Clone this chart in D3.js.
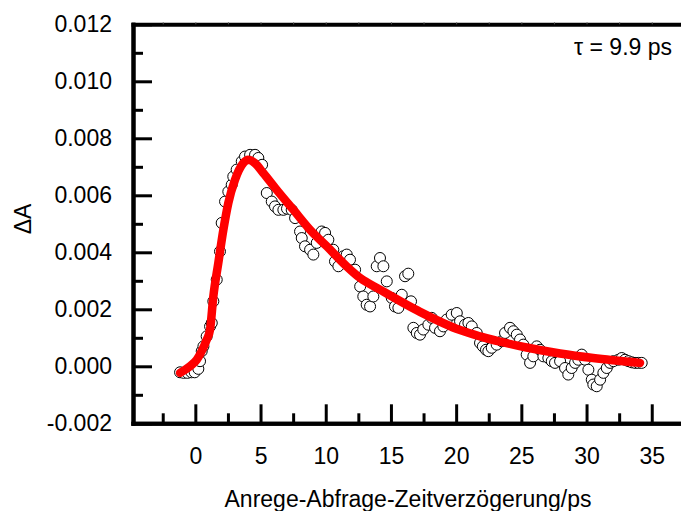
<!DOCTYPE html>
<html>
<head>
<meta charset="utf-8">
<script src="https://cdn.jsdelivr.net/npm/d3@7"></script>
<style>
  html, body { margin: 0; padding: 0; background: #fff; }
  svg { display: block; }
  text { font-family: "Liberation Sans", Arial, Helvetica, sans-serif; fill: #000; }
</style>
</head>
<body>
<svg id="chart" width="681" height="511"></svg>
<script>
// Measured transient absorption: pump-probe delay (ps) and ΔA
const delay = [
  -1.17, -0.90, -0.60, -0.30, -0.05, 0.23, 0.36, 0.49, 0.62, 0.87,
  1.13, 1.26, 1.38, 1.64, 1.89, 2.02, 2.28, 2.53, 2.79, 2.91,
  3.17, 3.56, 3.81, 4.20, 4.58, 4.83, 5.12, 5.48, 5.86, 6.11,
  6.37, 6.75, 7.03, 7.39, 7.65, 8.03, 8.16, 8.41, 8.80, 9.05,
  9.31, 9.69, 9.95, 10.20, 10.58, 10.71, 10.97, 11.35, 11.61, 11.86,
  12.25, 12.64, 12.88, 13.14, 13.40, 13.65, 13.91, 14.16, 14.42, 14.68,
  15.06, 15.31, 15.57, 15.83, 16.08, 16.33, 16.54, 16.72, 16.98, 17.23,
  17.48, 17.87, 18.13, 18.38, 18.76, 19.02, 19.28, 19.66, 20.05, 20.30,
  20.68, 20.94, 21.20, 21.58, 21.83, 22.05, 22.29, 22.47, 22.73, 23.11,
  23.50, 23.75, 24.13, 24.39, 24.65, 24.90, 25.15, 25.41, 25.67, 25.92,
  26.18, 26.43, 26.69, 27.07, 27.33, 27.58, 27.97, 28.35, 28.60, 28.86,
  29.12, 29.37, 29.63, 29.89, 30.14, 30.40, 30.52, 30.78, 31.04, 31.29,
  31.55, 31.80, 32.06, 32.44, 32.70, 32.95, 33.21, 33.47, 33.72, 33.97,
  34.23
];
const deltaA = [
  -0.00021, -0.00023, -0.00023, -0.00021, -0.00021, -0.00009, 0.00018, 0.00053, 0.00070, 0.00105,
  0.00140, 0.00152, 0.00228, 0.00304, 0.00403, 0.00503, 0.00578, 0.00613, 0.00637, 0.00666,
  0.00690, 0.00719, 0.00736, 0.00742, 0.00742, 0.00731, 0.00707, 0.00608, 0.00578, 0.00561,
  0.00549, 0.00549, 0.00553, 0.00549, 0.00520, 0.00473, 0.00450, 0.00421, 0.00409, 0.00392,
  0.00433, 0.00473, 0.00468, 0.00444, 0.00409, 0.00368, 0.00351, 0.00386, 0.00392, 0.00374,
  0.00339, 0.00280, 0.00245, 0.00216, 0.00210, 0.00245, 0.00351, 0.00380, 0.00351, 0.00298,
  0.00240, 0.00210, 0.00205, 0.00251, 0.00316, 0.00325, 0.00228, 0.00135, 0.00117, 0.00111,
  0.00129, 0.00146, 0.00170, 0.00135, 0.00123, 0.00140, 0.00164, 0.00181, 0.00187, 0.00158,
  0.00146, 0.00152, 0.00140, 0.00117, 0.00082, 0.00070, 0.00058, 0.00053, 0.00065, 0.00076,
  0.00088, 0.00117, 0.00135, 0.00123, 0.00111, 0.00094, 0.00076, 0.00041, 0.00012, 0.00035,
  0.00070, 0.00058, 0.00035, 0.00029, 0.00018, 0.00012, 0.00018, -0.00006, -0.00029, -0.00006,
  0.00012, 0.00023, 0.00041, 0.00023, -0.00012, -0.00047, -0.00064, -0.00070, -0.00047, -0.00023,
  -0.00006, 0.00012, 0.00018, 0.00023, 0.00029, 0.00023, 0.00018, 0.00014, 0.00012, 0.00012,
  0.00012
];

// Fitted kinetic trace (τ = 9.9 ps)
const fitDelay = [
  -1.17, -0.41, 0.11, 0.49, 0.87, 1.13, 1.38, 1.76, 2.15, 2.53,
  3.04, 3.68, 4.06, 4.57, 5.21, 6.24, 7.52, 8.80, 10.08, 11.60,
  12.63, 14.16, 17.23, 20.30, 21.83, 25.40, 27.97, 30.50, 34.10
];
const fitA = [
  -0.00023, 0.00000, 0.00023, 0.00053, 0.00093, 0.00129, 0.00245, 0.00362, 0.00479, 0.00573,
  0.00654, 0.00713, 0.00725, 0.00713, 0.00678, 0.00619, 0.00549, 0.00479, 0.00421, 0.00351,
  0.00310, 0.00269, 0.00191, 0.00127, 0.00105, 0.00066, 0.00045, 0.00029, 0.00012
];

const xMajor = [0, 5, 10, 15, 20, 25, 30, 35];
const xMinor = [-2.5, 2.5, 7.5, 12.5, 17.5, 22.5, 27.5, 32.5, 37.5];
const yMajor = [-0.002, 0.000, 0.002, 0.004, 0.006, 0.008, 0.010, 0.012];
const yMinor = [-0.001, 0.001, 0.003, 0.005, 0.007, 0.009, 0.011];
const xTitle = "Anrege-Abfrage-Zeitverzögerung/ps";
const yTitle = "ΔA";
const fitLabel = "τ = 9.9 ps";

const svg = d3.select("#chart");
const W = 681, H = 511;
const plotLeft = 133, plotTop = 24.3, plotBottom = 423.3, plotRight = 700;

const x = d3.scaleLinear().domain([-4.78, 38.7]).range([plotLeft, plotRight]);
const y = d3.scaleLinear().domain([-0.002, 0.012]).range([plotBottom, plotTop]);

svg.append("rect").attr("width", W).attr("height", H).attr("fill", "#fff");

const fontSize = 23;
// plain hyphen for negative tick values
const yFmt = v => d3.format(".3f")(v).replace("\u2212", "-");

// Bottom axis: major ticks with labels, minor ticks without
const xAxisMajor = svg.append("g")
  .attr("transform", `translate(0,${plotBottom})`)
  .call(d3.axisBottom(x).tickValues(xMajor).tickSizeInner(-19).tickSizeOuter(0)
        .tickPadding(24).tickFormat(d3.format("d")));
const xAxisMinor = svg.append("g")
  .attr("transform", `translate(0,${plotBottom})`)
  .call(d3.axisBottom(x).tickValues(xMinor).tickSizeInner(-10).tickSizeOuter(0).tickFormat(""));

// Left axis
const yAxisMajor = svg.append("g")
  .attr("transform", `translate(${plotLeft},0)`)
  .call(d3.axisLeft(y).tickValues(yMajor).tickSizeInner(-19).tickSizeOuter(0)
        .tickPadding(21).tickFormat(yFmt));
const yAxisMinor = svg.append("g")
  .attr("transform", `translate(${plotLeft},0)`)
  .call(d3.axisLeft(y).tickValues(yMinor).tickSizeInner(-10).tickSizeOuter(0).tickFormat(""));

// Top frame line with small ticks
const xAxisTop = svg.append("g")
  .attr("transform", `translate(0,${plotTop})`)
  .call(d3.axisTop(x).tickValues(xMinor.concat(xMajor)).tickSizeInner(2).tickSizeOuter(0).tickFormat(""));

[xAxisMajor, xAxisMinor, yAxisMajor, yAxisMinor, xAxisTop].forEach(g => {
  g.select(".domain").attr("stroke", "#000").attr("stroke-width", 4).attr("stroke-linecap", "square");
  g.selectAll(".tick line").attr("stroke", "#000").attr("stroke-width", 3);
  g.selectAll(".tick text").attr("font-size", fontSize)
    .attr("font-family", '"Liberation Sans", Arial, sans-serif').attr("fill", "#000");
});
xAxisTop.selectAll(".tick line").attr("stroke-width", 1).attr("stroke", "#555");

// Data points (open circles)
const pts = delay.map((d, i) => ({ t: d, a: deltaA[i] }));
svg.append("g")
  .selectAll("circle")
  .data(pts)
  .join("circle")
  .attr("cx", d => x(d.t))
  .attr("cy", d => y(d.a))
  .attr("r", 5.5)
  .attr("fill", "#fff")
  .attr("stroke", "#000")
  .attr("stroke-width", 1);

// Fit curve
const fitPts = fitDelay.map((d, i) => ({ t: d, a: fitA[i] }));
svg.append("path")
  .datum(fitPts)
  .attr("fill", "none")
  .attr("stroke", "#ff0000")
  .attr("stroke-width", 8.5)
  .attr("stroke-linecap", "round")
  .attr("stroke-linejoin", "round")
  .attr("d", d3.line().x(d => x(d.t)).y(d => y(d.a)).curve(d3.curveMonotoneX));

// Annotation and axis titles
svg.append("text")
  .attr("x", 672).attr("y", 55)
  .attr("text-anchor", "end")
  .attr("font-size", fontSize)
  .text(fitLabel);

svg.append("text")
  .attr("x", 408).attr("y", 507)
  .attr("text-anchor", "middle")
  .attr("font-size", fontSize)
  .text(xTitle);

svg.append("text")
  .attr("transform", "translate(31,219) rotate(-90)")
  .attr("text-anchor", "middle")
  .attr("font-size", fontSize)
  .text(yTitle);
</script>
</body>
</html>
